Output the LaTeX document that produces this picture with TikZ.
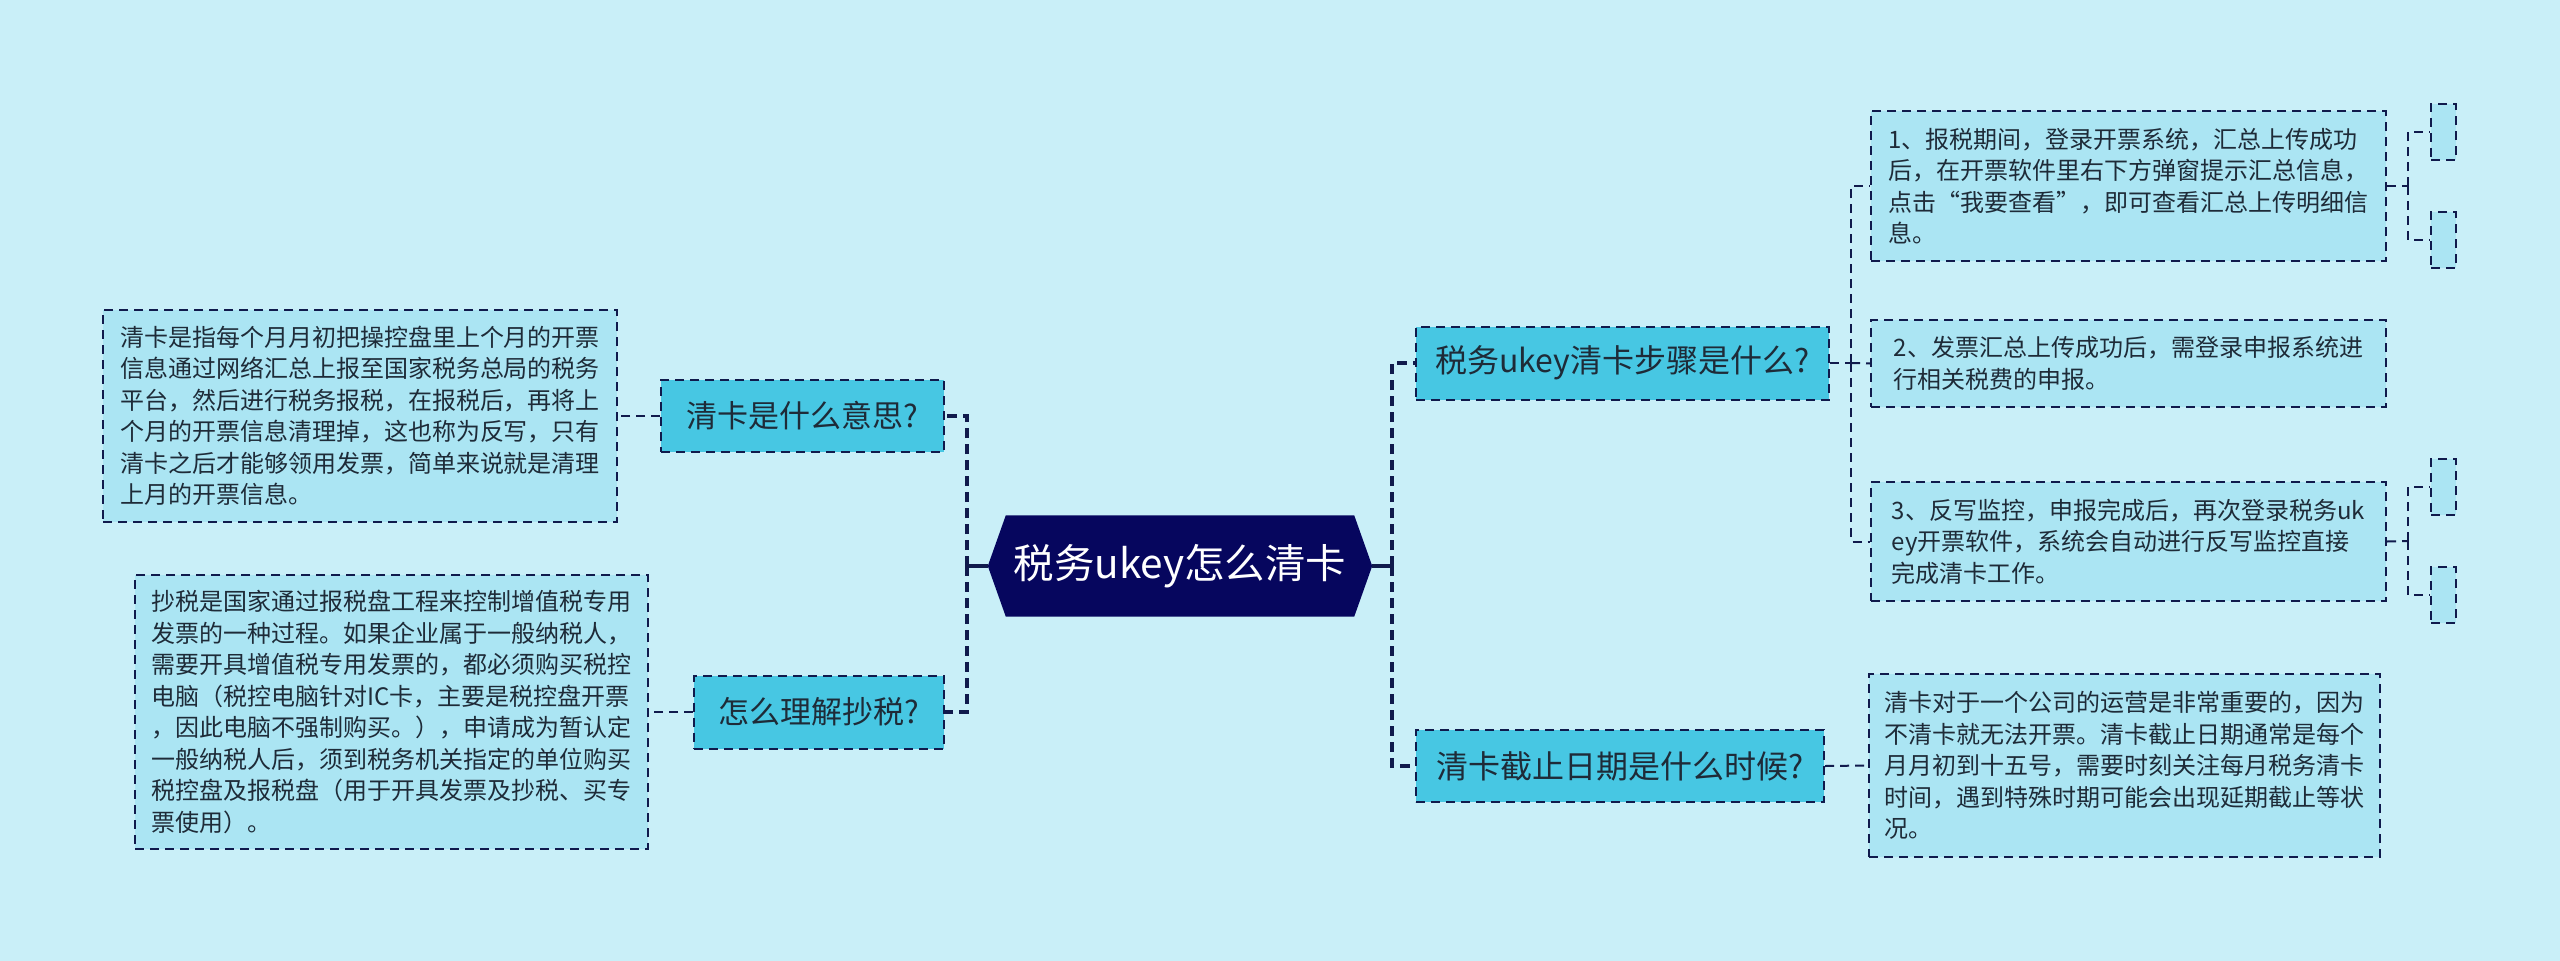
\documentclass[tikz,border=0pt]{standalone}
\usepackage{fontspec}
\setmainfont{Noto Sans CJK SC}
\definecolor{bgc}{HTML}{C9EFF8}
\definecolor{childc}{HTML}{47C7E3}
\definecolor{detc}{HTML}{ABE5F3}
\definecolor{rootc}{HTML}{06065E}
\definecolor{linec}{HTML}{101A4C}
\definecolor{txtc}{HTML}{1E2B38}
\pgfdeclarelayer{bg}
\pgfsetlayers{bg,main}
\begin{document}
\begin{tikzpicture}[x=1pt,y=-1pt,
  mainconn/.style={draw=linec, line width=3.4pt, dash pattern=on 10pt off 6pt},
  mainsolid/.style={draw=linec, line width=3.4pt},
  subconn/.style={draw=linec, line width=2pt, dash pattern=on 9pt off 6pt},
  box/.style={draw=linec, line width=2pt, dash pattern=on 9pt off 6pt, inner sep=0pt, text=txtc},
  child/.style={box, fill=childc, font=\fontsize{31}{36}\selectfont},
  det/.style={box, fill=detc, align=left, font=\fontsize{24}{31.5}\selectfont},
  tinybox/.style={box, fill=detc, minimum width=25pt, minimum height=56pt},
  rootnode/.style={inner sep=0pt, minimum width=384pt, minimum height=101pt, text=white, font=\fontsize{40.5}{48}\selectfont}
]
\begin{pgfonlayer}{bg}
\fill[bgc] (0,0) rectangle (2560,961);
\end{pgfonlayer}

% root
\node[rootnode] (root) at (1180,566) {税务ukey怎么清卡};
\begin{pgfonlayer}{bg}
\fill[rootc] (root.west) -- ([xshift=18pt]root.north west) -- ([xshift=-18pt]root.north east)
  -- (root.east) -- ([xshift=-18pt]root.south east) -- ([xshift=18pt]root.south west) -- cycle;
\end{pgfonlayer}

% children
\node[child, minimum width=283pt, minimum height=72pt] (cL1) at (802.5,416) {清卡是什么意思?};
\node[child, minimum width=250pt, minimum height=73pt] (cL2) at (819,712) {怎么理解抄税?};
\node[child, minimum width=413pt, minimum height=73pt, font=\fontsize{32}{38}\selectfont] (cR1) at (1622.5,363) {税务ukey清卡步骤是什么?};
\node[child, minimum width=408pt, minimum height=72pt, font=\fontsize{32}{38}\selectfont] (cR2) at (1620,766) {清卡截止日期是什么时候?};

% details
\node[det, minimum width=514pt, minimum height=212pt] (dL1) at (360,416) {清卡是指每个月月初把操控盘里上个月的开票\\
信息通过网络汇总上报至国家税务总局的税务\\
平台，然后进行税务报税，在报税后，再将上\\
个月的开票信息清理掉，这也称为反写，只有\\
清卡之后才能够领用发票，简单来说就是清理\\
上月的开票信息。};

\node[det, minimum width=513pt, minimum height=274pt] (dL2) at (391.5,712) {抄税是国家通过报税盘工程来控制增值税专用\\
发票的一种过程。如果企业属于一般纳税人，\\
需要开具增值税专用发票的，都必须购买税控\\
电脑（税控电脑针对IC卡，主要是税控盘开票\\
，因此电脑不强制购买。），申请成为暂认定\\
一般纳税人后，须到税务机关指定的单位购买\\
税控盘及报税盘（用于开具发票及抄税、买专\\
票使用）。};

\node[det, minimum width=515pt, minimum height=150pt] (dR1) at (2128.5,186) {1、报税期间，登录开票系统，汇总上传成功\\
后，在开票软件里右下方弹窗提示汇总信息，\\
点击“我要查看”，即可查看汇总上传明细信\\
息。};

\node[det, minimum width=515pt, minimum height=87pt] (dR2) at (2128.5,363.5) {2、发票汇总上传成功后，需登录申报系统进\\
行相关税费的申报。};

\node[det, minimum width=515pt, minimum height=119pt] (dR3) at (2128.5,541.5) {3、反写监控，申报完成后，再次登录税务uk\\
ey开票软件，系统会自动进行反写监控直接\\
完成清卡工作。};

\node[det, minimum width=511pt, minimum height=183pt] (dR4) at (2124.5,765.5) {清卡对于一个公司的运营是非常重要的，因为\\
不清卡就无法开票。清卡截止日期通常是每个\\
月月初到十五号，需要时刻关注每月税务清卡\\
时间，遇到特殊时期可能会出现延期截止等状\\
况。};

% tiny boxes
\node[tinybox] (t1) at (2443.5,132) {};
\node[tinybox] (t2) at (2443.5,240) {};
\node[tinybox] (t3) at (2443.5,487) {};
\node[tinybox] (t4) at (2443.5,595) {};

% spines
\coordinate (spL) at (967,566);
\coordinate (spR) at (1392,566);
\coordinate (spR1) at (1851,363);
\coordinate (spT1) at (2408,186);
\coordinate (spT3) at (2408,541);

\draw[mainsolid] (root.west) -- (spL);
\draw[mainconn] (spL) |- (cL1.east);
\draw[mainconn] (spL) |- (cL2.east);
\draw[mainsolid] (root.east) -- (spR);
\draw[mainconn] (spR) |- (cR1.west);
\draw[mainconn] (spR) |- (cR2.west);

\draw[subconn] (cL1.west) -- (dL1.east);
\draw[subconn] (cL2.west) -- (dL2.east);
\draw[subconn] (cR1.east) -- (spR1);
\draw[subconn] (spR1) |- (dR1.west);
\draw[subconn] (spR1) -- (dR2.west);
\draw[subconn] (spR1) |- (dR3.west);
\draw[subconn] (cR2.east) -- (dR4.west);

\draw[subconn] (dR1.east) -- (spT1);
\draw[subconn] (spT1) |- (t1.west);
\draw[subconn] (spT1) |- (t2.west);
\draw[subconn] (dR3.east) -- (spT3);
\draw[subconn] (spT3) |- (t3.west);
\draw[subconn] (spT3) |- (t4.west);
\end{tikzpicture}
\end{document}
